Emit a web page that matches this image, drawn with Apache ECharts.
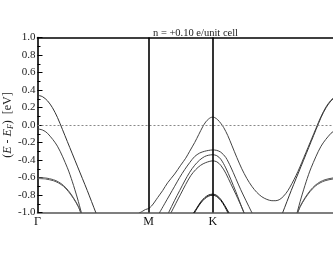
<!DOCTYPE html>
<html><head><meta charset="utf-8">
<script src="https://cdn.jsdelivr.net/npm/echarts@6/dist/echarts.min.js"></script>
<style>html,body{margin:0;padding:0;background:#fff}#c{width:333px;height:258px}</style>
</head><body><div id="c"></div>
<script>
// k-path: Γ - M - K - Γ
const kLabels = ['Γ', 'M', 'K', 'Γ'];
const kPoints = [0, 0.5774, 0.9107, 1.5774];
const yLabels = ['-1.0','-0.8','-0.6','-0.4','-0.2','0.0','0.2','0.4','0.6','0.8','1.0'];
const titleText = 'n = +0.10 e/unit cell';

// bands around Γ: [distance from Γ, E - EF]; drawn at both Γ points
const gammaBandA = [[0,0.34],[0.0259,0.324],[0.0518,0.277],[0.0777,0.198],[0.1036,0.087],[0.1295,-0.05],[0.1553,-0.19],[0.2071,-0.47],[0.2589,-0.75],[0.3029,-1.0],[0.3107,-1.04]];
const gammaBandB = [[0,-0.045],[0.0259,-0.057],[0.0518,-0.094],[0.1036,-0.242],[0.1553,-0.489],[0.1812,-0.649],[0.2071,-0.834],[0.2278,-1.0],[0.2382,-1.088]];
const gammaBandC1 = [[0,-0.6],[0.0414,-0.605],[0.0828,-0.625],[0.1087,-0.65],[0.1346,-0.69],[0.1605,-0.75],[0.1864,-0.83],[0.2123,-0.93],[0.2278,-1.02]];
const gammaBandC2 = [[0,-0.612],[0.0414,-0.617],[0.0828,-0.637],[0.1087,-0.662],[0.1346,-0.70],[0.1605,-0.76],[0.1864,-0.838],[0.2123,-0.935],[0.2278,-1.02]];

// bands along M - K - Γ: [k, E - EF]
const band1 = [[0.5255,-1.01],[0.5463,-0.985],[0.5618,-0.965],[0.5774,-0.955],[0.5930,-0.925],[0.6086,-0.88],[0.6243,-0.83],[0.6503,-0.75],[0.6764,-0.66],[0.7128,-0.56],[0.7441,-0.46],[0.7701,-0.38],[0.7909,-0.30],[0.8170,-0.20],[0.8378,-0.11],[0.8587,-0.02],[0.8743,0.035],[0.8899,0.07],[0.9003,0.085],[0.9107,0.09],[0.9211,0.085],[0.9367,0.06],[0.9524,0.02],[0.9680,-0.03],[0.9888,-0.12],[1.0096,-0.23],[1.0357,-0.37],[1.0617,-0.50],[1.0878,-0.61],[1.1138,-0.70],[1.1398,-0.77],[1.1659,-0.82],[1.1919,-0.85],[1.2180,-0.865],[1.2388,-0.865],[1.2596,-0.85],[1.2805,-0.81],[1.3013,-0.75],[1.3221,-0.67],[1.3430,-0.58],[1.3638,-0.48],[1.3846,-0.37],[1.4054,-0.26],[1.4263,-0.15],[1.4471,-0.04],[1.4732,0.095],[1.4992,0.205],[1.5253,0.283],[1.5513,0.328],[1.5774,0.34]];
const bandK1 = [[0.6295,-1.02],[0.6607,-0.90],[0.6868,-0.80],[0.7128,-0.70],[0.7388,-0.60],[0.7649,-0.51],[0.7909,-0.43],[0.8170,-0.36],[0.8430,-0.32],[0.8690,-0.30],[0.8899,-0.29],[0.9107,-0.285],[0.9315,-0.29],[0.9524,-0.31],[0.9784,-0.37],[1.0044,-0.48],[1.0305,-0.61],[1.0565,-0.74],[1.0826,-0.86],[1.1138,-1.0],[1.1190,-1.02]];
const bandK2 = [[0.6764,-1.02],[0.6816,-1.0],[0.7128,-0.86],[0.7388,-0.75],[0.7649,-0.64],[0.7909,-0.54],[0.8170,-0.46],[0.8430,-0.40],[0.8690,-0.36],[0.8899,-0.345],[0.9107,-0.34],[0.9315,-0.35],[0.9524,-0.39],[0.9784,-0.49],[1.0044,-0.62],[1.0305,-0.76],[1.0513,-0.88],[1.0721,-1.0],[1.0773,-1.03]];
const bandK3 = [[0.6894,-1.02],[0.6946,-1.0],[0.7180,-0.90],[0.7441,-0.79],[0.7701,-0.68],[0.7961,-0.58],[0.8222,-0.51],[0.8482,-0.46],[0.8743,-0.43],[0.9107,-0.41],[0.9315,-0.42],[0.9524,-0.46],[0.9784,-0.55],[1.0044,-0.67],[1.0305,-0.79],[1.0513,-0.89],[1.0773,-1.02]];
const bandD1 = [[0.8066,-1.02],[0.8274,-0.95],[0.8482,-0.88],[0.8690,-0.83],[0.8899,-0.80],[0.9107,-0.79],[0.9315,-0.805],[0.9524,-0.85],[0.9732,-0.92],[0.9940,-1.0],[0.9992,-1.02]];
const bandD2 = [[0.8118,-1.02],[0.8274,-0.96],[0.8482,-0.892],[0.8690,-0.842],[0.8899,-0.812],[0.9107,-0.802],[0.9315,-0.817],[0.9524,-0.862],[0.9732,-0.932],[0.9888,-1.0],[0.9940,-1.02]];

const serif = "'Liberation Serif','Times New Roman',serif";
const kEnd = kPoints[kPoints.length - 1];

function line(data, color, width) {
  return { type: 'line', data: data, showSymbol: false, symbol: 'none', smooth: 0.3,
    silent: true, clip: true, lineStyle: { color: color, width: width }, z: 3 };
}
const series = [];
[[gammaBandA,'#333',1],[gammaBandB,'#444',1],[gammaBandC1,'#555',1],[gammaBandC2,'#555',1]].forEach(([b,c,w]) => {
  series.push(line(b.map(p => [p[0], p[1]]), c, w));
  series.push(line(b.map(p => [kEnd - p[0], p[1]]), c, w));
});
series.push(line(band1, '#444', 1));
series.push(line(bandK1, '#444', 1));
series.push(line(bandK2, '#444', 1));
series.push(line(bandK3, '#444', 1));
series.push(line(bandD1, '#111', 1));
series.push(line(bandD2, '#111', 1));
series[0].markLine = {
  symbol: 'none', silent: true, label: { show: false }, animation: false,
  data: [
    { yAxis: 0, lineStyle: { color: '#888', width: 1, type: [2, 2] } },
    { xAxis: kPoints[1], lineStyle: { color: '#000', width: 1.6, type: 'solid' } },
    { xAxis: kPoints[2], lineStyle: { color: '#000', width: 1.6, type: 'solid' } }
  ]
};

const chart = echarts.init(document.getElementById('c'), null, { renderer: 'canvas' });
chart.setOption({
  animation: false,
  backgroundColor: '#fff',
  title: { text: titleText, left: 148, top: 23,
    textStyle: { fontFamily: serif, fontSize: 10.5, fontWeight: 'normal', color: '#222' } },
  grid: { left: 37.5, top: 37.5, bottom: 45.5, right: -8, containLabel: false, outerBoundsMode: 'none' },
  xAxis: [{
    type: 'value', min: 0, max: kEnd,
    axisLine: { show: true, onZero: false, lineStyle: { color: '#555', width: 1.6 } },
    axisTick: { show: false }, splitLine: { show: false },
    axisLabel: { customValues: kPoints, margin: 3, fontFamily: serif, fontSize: 12, color: '#111',
      formatter: v => { const i = kPoints.findIndex(p => Math.abs(p - v) < 1e-6); return i >= 0 ? kLabels[i] : ''; } }
  }, {
    type: 'value', min: 0, max: kEnd, position: 'top',
    axisLine: { show: true, onZero: false, lineStyle: { color: '#000', width: 1.6 } },
    axisTick: { show: false }, axisLabel: { show: false }, splitLine: { show: false }
  }],
  yAxis: {
    type: 'value', min: -1, max: 1, interval: 0.2,
    axisLine: { show: true, onZero: false, lineStyle: { color: '#000', width: 1.6 } },
    axisTick: { show: true, inside: true, length: 5, lineStyle: { color: '#000', width: 1 } },
    minorTick: { show: true, splitNumber: 2, length: 3, lineStyle: { color: '#000', width: 1 } },
    splitLine: { show: false },
    axisLabel: { margin: 2, fontFamily: serif, fontSize: 11, color: '#222',
      formatter: v => yLabels[Math.round((v + 1) / 0.2)] },
    name: '({it|E} - {it|E}{sub|F})  [eV]',
    nameLocation: 'middle', nameGap: 23, nameRotate: 90, nameMoveOverlap: false,
    nameTextStyle: { fontFamily: serif, fontSize: 12, color: '#222',
      rich: { it: { fontFamily: serif, fontSize: 12, fontStyle: 'italic', color: '#222' },
              sub: { fontFamily: serif, fontSize: 8, fontStyle: 'italic', color: '#222', verticalAlign: 'bottom', padding: [6, 0, 0, 0] } } }
  },
  series: series
});
</script></body></html>
